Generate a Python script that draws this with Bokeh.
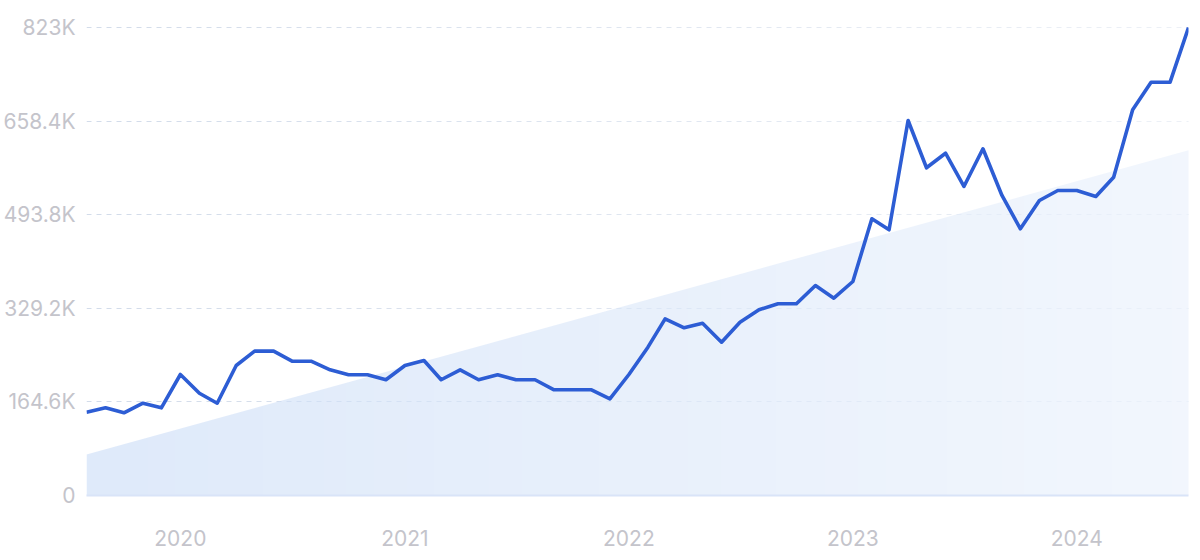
import numpy as np
import pandas as pd
from bokeh.plotting import figure
from bokeh.models import Range1d, FixedTicker
from bokeh.embed import file_html
from bokeh.resources import INLINE

# monthly values, Aug 2019 .. Jul 2024
start_month = "2019-08-01"
values = [146.5, 154.2, 145.4, 162.3, 154.2, 212.8, 179.9, 162.3, 228.6, 253.8,
          253.8, 236.2, 236.2, 221.0, 212.3, 212.3, 203.5, 228.6, 237.4, 203.5,
          221.0, 203.5, 212.3, 203.5, 203.5, 185.9, 185.9, 185.9, 170.0, 212.8,
          260.8, 310.7, 294.9, 303.0, 269.6, 304.8, 326.6, 337.1, 337.1, 369.3,
          347.0, 376.3, 486.6, 467.2, 659.4, 576.3, 601.9, 543.4, 609.7, 527.6,
          469.0, 518.8, 536.3, 536.3, 525.8, 559.7, 678.3, 726.8, 726.8, 823.0]
values = [v * 1000 for v in values]
months = pd.date_range(start_month, periods=len(values), freq="MS")

# trend band from first to last month
trend_start = 72000
trend_end = 607000

year_labels = ["2020", "2021", "2022", "2023", "2024"]
y_ticks = [0, 164600, 329200, 493800, 658400, 823000]
y_labels = ["0", "164.6K", "329.2K", "493.8K", "658.4K", "823K"]

y_top = 830000

p = figure(width=1192, height=552, output_backend="svg", toolbar_location=None,
           x_axis_type="datetime",
           x_range=Range1d(months[0], months[-1]), y_range=Range1d(0, y_top),
           min_border_left=0, min_border_right=4, min_border_top=23, min_border_bottom=57)
p.outline_line_color = None
p.background_fill_color = "white"

# trend area
p.varea(x=[months[0], months[-1]], y1=[0, 0], y2=[trend_start, trend_end],
        fill_color="#c9dcf6", fill_alpha=0.6)

# white fade left->right to mimic the gradient
n = 200
alpha = np.linspace(0, 150, n).astype(np.uint32)
img = np.empty((1, n), dtype=np.uint32)
img[0, :] = (alpha << 24) | (255 << 16) | (255 << 8) | 255
span_ms = (months[-1] - months[0]).total_seconds() * 1000
p.image_rgba(image=[img], x=months[0], y=0, dw=span_ms, dh=y_top)

p.line(months, values, line_color="#2d5dd4", line_width=3.6, line_join="round")

font = "Inter"
p.xaxis.ticker = FixedTicker(ticks=[pd.Timestamp(y + "-01-01").value / 1e6 for y in year_labels])
p.xaxis.major_label_overrides = {pd.Timestamp(y + "-01-01").value / 1e6: y for y in year_labels}
p.xaxis.axis_line_color = "#d9e4f8"
p.xaxis.axis_line_width = 2
p.xaxis.major_tick_line_color = None
p.xaxis.minor_tick_line_color = None
p.xaxis.major_label_standoff = 28

p.yaxis.ticker = FixedTicker(ticks=y_ticks)
p.yaxis.major_label_overrides = dict(zip(y_ticks, y_labels))
p.yaxis.axis_line_color = None
p.yaxis.major_tick_line_color = None
p.yaxis.minor_tick_line_color = None
p.yaxis.major_label_standoff = 5

for ax in (p.xaxis, p.yaxis):
    ax.major_label_text_font = font
    ax.major_label_text_font_size = "21px"
    ax.major_label_text_color = "#c4c4cb"

p.xgrid.grid_line_color = None
p.ygrid.grid_line_color = "#d3dcea"
p.ygrid.grid_line_dash = "5 5"
p.ygrid.grid_line_width = 1

open("out.html", "w").write(file_html(p, INLINE))
